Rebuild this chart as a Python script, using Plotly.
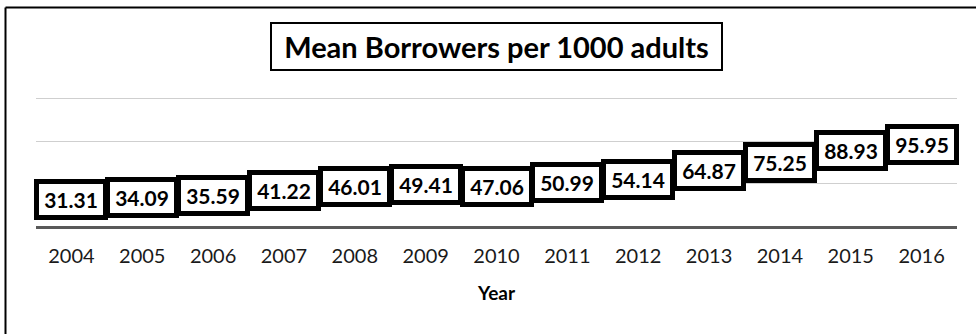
import plotly.graph_objects as go

# Mean borrowers per 1000 adults, by year
years = ["2004", "2005", "2006", "2007", "2008", "2009", "2010",
         "2011", "2012", "2013", "2014", "2015", "2016"]
borrowers = [31.31, 34.09, 35.59, 41.22, 46.01, 49.41, 47.06,
             50.99, 54.14, 64.87, 75.25, 88.93, 95.95]
grid_values = [50, 100, 150]

title_text = "Mean Borrowers per 1000 adults"
x_title = "Year"

FONT = "Lato, 'Open Sans', sans-serif"

W, H = 976, 334
L, R, T, B = 36, 19, 90, 108
plot_h = H - T - B
Y_MAX = 160

fig = go.Figure()

# underlying series (sits behind the boxed value labels)
fig.add_trace(go.Scatter(
    x=years, y=borrowers, mode="lines",
    line=dict(color="black", width=2),
    hoverinfo="x+y", showlegend=False,
))

# boxed value labels centred on each point (category axis uses serial index)
annotations = []
for i, v in enumerate(borrowers):
    annotations.append(dict(
        x=i, y=v, xref="x", yref="y",
        xanchor="center", yanchor="middle",
        text=f"<b>{v:.2f}</b>", showarrow=False,
        font=dict(family=FONT, size=21, color="black"),
        bgcolor="white", bordercolor="black", borderwidth=5, borderpad=0,
        width=64, height=31, align="center", valign="middle",
    ))


def px_to_paper_x(px):
    return (px - L) / (W - L - R)


def px_to_paper_y(py):
    return (H - B - py) / plot_h


# boxed chart title
annotations.append(dict(
    x=0.5, y=px_to_paper_y(46.5), xref="paper", yref="paper",
    xanchor="center", yanchor="middle",
    text=f"<b>{title_text}</b>", showarrow=False,
    font=dict(family=FONT, size=29, color="black"),
    bgcolor="white", bordercolor="black", borderwidth=2, borderpad=0,
    width=449, height=45, align="center", valign="middle",
))

# chart frame (left and top edges)
fx = px_to_paper_x(5.5)
fy = px_to_paper_y(7.5)
shapes = [
    dict(type="line", xref="paper", yref="paper",
         x0=fx, x1=fx, y0=px_to_paper_y(H + 5), y1=fy,
         line=dict(color="black", width=2)),
    dict(type="line", xref="paper", yref="paper",
         x0=fx, x1=px_to_paper_x(W + 5), y0=fy, y1=fy,
         line=dict(color="black", width=2)),
]

fig.update_layout(
    width=W, height=H,
    margin=dict(l=L, r=R, t=T, b=B, autoexpand=False),
    paper_bgcolor="white", plot_bgcolor="white",
    showlegend=False,
    annotations=annotations,
    shapes=shapes,
    xaxis=dict(
        type="category", range=[-0.5, len(years) - 0.5],
        showgrid=False, zeroline=False,
        showline=True, linecolor="#595959", linewidth=3,
        ticks="outside", ticklen=10, tickcolor="rgba(0,0,0,0)",
        tickfont=dict(family=FONT, size=20, color="#1a1a1a"),
        title=dict(text=f"<b>{x_title}</b>",
                   font=dict(family=FONT, size=19, color="black"),
                   standoff=21),
        automargin=False, fixedrange=True,
    ),
    yaxis=dict(
        range=[0, Y_MAX], tickvals=grid_values, showgrid=True,
        gridcolor="#cfcfcf", gridwidth=1, zeroline=False, showline=False,
        showticklabels=False, ticks="", automargin=False, fixedrange=True,
    ),
)

fig.write_html("out.html")
